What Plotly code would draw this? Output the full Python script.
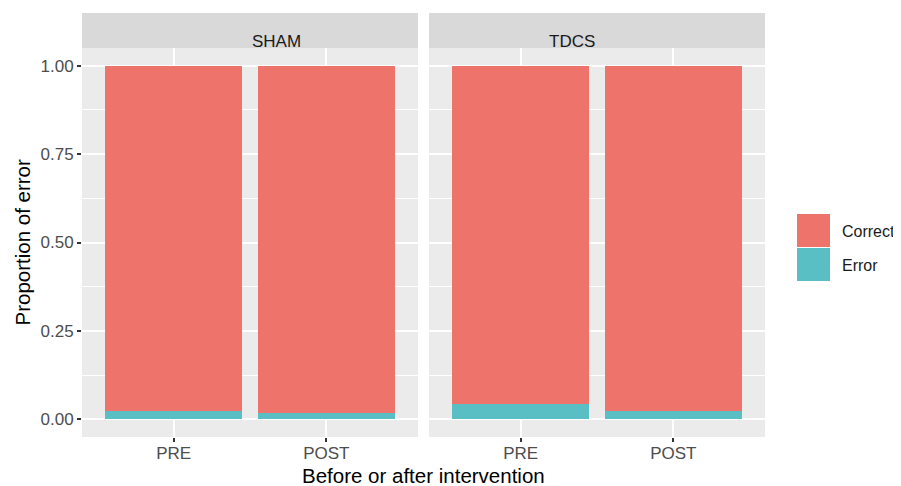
import plotly.graph_objects as go
from plotly.subplots import make_subplots

panels = ["SHAM", "TDCS"]
phases = ["PRE", "POST"]
error_vals = {"SHAM": [0.0235, 0.018], "TDCS": [0.044, 0.0235]}
correct_vals = {"SHAM": [0.9765, 0.982], "TDCS": [0.956, 0.9765]}
y_ticks = [0.0, 0.25, 0.5, 0.75, 1.0]
y_ticklabels = ["0.00", "0.25", "0.50", "0.75", "1.00"]

col_correct = "#EE736B"
col_error = "#59BFC4"
font_family = "Liberation Sans, Arial, sans-serif"
tick_size = 17
strip_size = 17
legend_size = 16
title_size = 20.5

# page body has an 8px offset; work in screen coords minus 8
OFF = 8
W, H = 901 - OFF, 486 - OFF
L, R, T, B = 82 - OFF, 765 - OFF, 48 - OFF, 437 - OFF
pw = R - L

fig = make_subplots(rows=1, cols=2, shared_yaxes=True, horizontal_spacing=0)

for i, p in enumerate(panels):
    fig.add_trace(go.Bar(x=phases, y=error_vals[p], name="Error", marker_color=col_error,
                         marker_line_width=0, width=0.9, showlegend=False), row=1, col=i + 1)
    fig.add_trace(go.Bar(x=phases, y=correct_vals[p], name="Correct", marker_color=col_correct,
                         marker_line_width=0, width=0.9, showlegend=False), row=1, col=i + 1)

dom1 = [0, (418 - 82) / pw]
dom2 = [(429 - 82) / pw, 1]

axis_common = dict(showline=False, zeroline=False, gridcolor="white", gridwidth=2,
                   ticks="outside", ticklen=4, tickwidth=1.5, tickcolor="#333333",
                   tickfont=dict(size=tick_size, color="#4D4D4D", family=font_family))
fig.update_layout(
    xaxis=dict(domain=dom1, range=[-0.6, 1.6], ticklabelstandoff=-3, **axis_common),
    xaxis2=dict(domain=dom2, range=[-0.6, 1.6], ticklabelstandoff=-3, **axis_common),
    yaxis=dict(range=[-0.05, 1.05], tickvals=y_ticks, ticktext=y_ticklabels,
               minor=dict(tickvals=[0.125, 0.375, 0.625, 0.875], showgrid=True,
                          gridcolor="white", gridwidth=1, ticks=""),
               **axis_common),
    yaxis2=dict(range=[-0.05, 1.05], tickvals=y_ticks, showticklabels=False, ticks="",
                minor=dict(tickvals=[0.125, 0.375, 0.625, 0.875], showgrid=True,
                           gridcolor="white", gridwidth=1, ticks=""),
                showline=False, zeroline=False, gridcolor="white", gridwidth=2),
    barmode="stack", bargap=0,
    plot_bgcolor="rgba(0,0,0,0)", paper_bgcolor="white",
    width=W, height=H, margin=dict(l=L, r=W - R, t=T, b=H - B, autoexpand=False),
    showlegend=False,
    font=dict(family=font_family),
)

shapes = []
annotations = []
strip_h = 35 / (B - T)
for dom, p in zip([dom1, dom2], panels):
    shapes.append(dict(type="rect", xref="paper", yref="paper", x0=dom[0], x1=dom[1], y0=0, y1=1,
                       fillcolor="#EBEBEB", line_width=0, layer="below"))
    shapes.append(dict(type="rect", xref="paper", yref="paper", x0=dom[0], x1=dom[1], y0=1,
                       y1=1 + strip_h, fillcolor="#D9D9D9", line_width=0))
    annotations.append(dict(text=p, xref="paper", yref="paper", x=(dom[0] + dom[1]) / 2,
                            y=1 + strip_h / 2, showarrow=False,
                            font=dict(size=strip_size, color="#1A1A1A", family=font_family)))

# axis titles
annotations.append(dict(text="Before or after intervention", xref="paper", yref="paper",
                        x=0.5, y=0, yshift=-38, yanchor="middle", showarrow=False,
                        font=dict(size=title_size, color="black", family=font_family)))
annotations.append(dict(text="Proportion of error", xref="paper", yref="paper",
                        x=0, xshift=-60, xanchor="center", y=0.5, textangle=-90, showarrow=False,
                        font=dict(size=title_size, color="black", family=font_family)))

# legend keys (screen coords converted)
leg_items = [("Correct", col_correct), ("Error", col_error)]
key_x0, key_x1 = 797 - OFF, 830 - OFF
key_top = 214 - OFF
key_h = 34
for j, (name, c) in enumerate(leg_items):
    y0p = key_top + j * key_h
    y1p = y0p + key_h - 1
    shapes.append(dict(type="rect", xref="paper", yref="paper",
                       x0=(key_x0 - L) / pw, x1=(key_x1 - L) / pw,
                       y0=(B - y1p) / (B - T), y1=(B - y0p) / (B - T),
                       fillcolor=c, line_width=0))
    annotations.append(dict(text=name, xref="paper", yref="paper",
                            x=(840 - OFF - L) / pw, y=(B - (y0p + key_h / 2)) / (B - T),
                            xanchor="left", showarrow=False,
                            font=dict(size=legend_size, color="#1A1A1A", family=font_family)))

fig.update_layout(shapes=shapes, annotations=annotations)
fig.write_html("out.html")
